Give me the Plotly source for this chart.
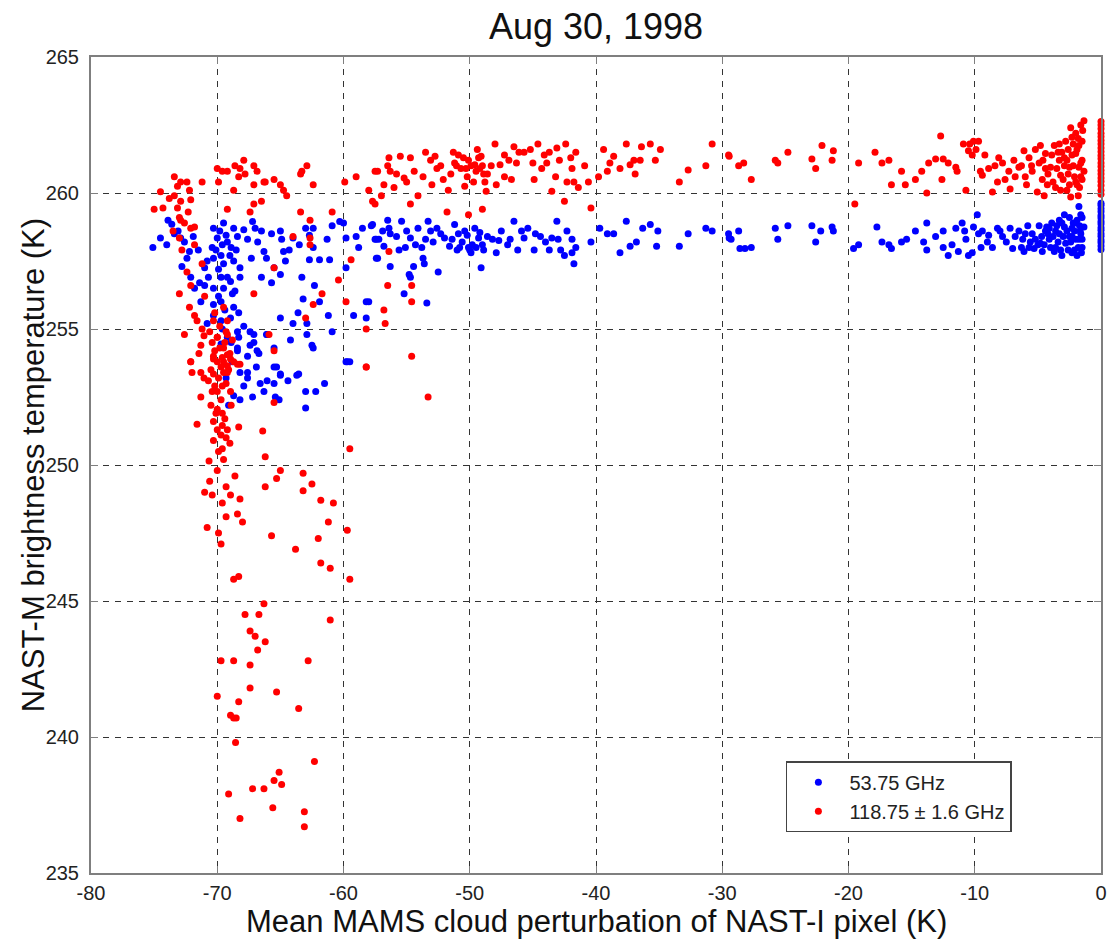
import plotly.graph_objects as go

# ---------------- data ----------------
x_ticks = [-80, -70, -60, -50, -40, -30, -20, -10, 0]
y_ticks = [235, 240, 245, 250, 255, 260, 265]

blue_left = [
    (-73.9, 259.0), (-74.5, 258.35), (-75.1, 258.0), (-73.1, 258.6), (-72.9, 258.35), (-72.6, 258.2),
    (-73.4, 258.5), (-72.2, 257.85), (-72.4, 257.6), (-70.3, 258.7), (-69.5, 258.9), (-68.7, 258.7),
    (-67.9, 258.65), (-67.2, 258.95), (-67.0, 258.7), (-66.5, 258.6), (-65.7, 258.5), (-65.0, 258.6),
    (-64.9, 258.3), (-64.0, 258.35), (-63.0, 258.7), (-62.4, 258.7), (-60.9, 258.8), (-60.0, 258.9),
    (-59.8, 258.35), (-59.0, 258.4), (-57.8, 258.8), (-57.4, 258.3), (-57.4, 257.6), (-59.8, 257.25),
    (-61.1, 257.55), (-61.9, 257.55), (-62.7, 257.55), (-64.75, 257.85), (-64.6, 257.5), (-66.3, 257.85),
    (-66.1, 257.6), (-65.5, 257.25), (-66.5, 256.9), (-65.7, 256.7), (-68.2, 257.25), (-68.7, 257.5),
    (-69.5, 257.4), (-69.7, 257.7), (-70.3, 257.6), (-70.8, 257.5), (-71.0, 257.25), (-70.7, 256.9),
    (-69.7, 256.9), (-68.95, 256.75), (-68.2, 256.9), (-69.5, 256.5), (-70.3, 256.5), (-71.0, 256.6),
    (-71.8, 256.5), (-72.1, 256.9), (-71.3, 256.0), (-70.3, 255.9), (-69.7, 256.0), (-68.7, 255.8),
    (-70.8, 255.2), (-69.7, 255.3), (-68.95, 255.4), (-68.4, 254.9), (-68.4, 254.3), (-69.2, 254.7),
    (-67.4, 254.9), (-67.1, 254.5), (-66.1, 254.8), (-66.85, 254.2), (-65.0, 255.4), (-64.0, 255.2),
    (-62.9, 255.2), (-63.2, 256.1), (-61.9, 256.0), (-61.2, 255.5), (-60.9, 254.9), (-62.4, 254.3),
    (-59.8, 253.8), (-58.2, 256.0), (-58.2, 255.4), (-59.2, 255.5), (-65.5, 253.6), (-65.0, 253.3),
    (-63.7, 253.3), (-67.6, 253.4), (-60.3, 258.95), (-70.4, 258.0), (-70.0, 258.35), (-69.2, 258.2),
    (-68.4, 258.4), (-67.6, 258.3), (-62.7, 258.45), (-62.4, 258.0), (-63.3, 256.9), (-62.3, 256.6),
    (-65.0, 257.0), (-68.8, 256.3), (-70.3, 255.5),
    (-68.3, 254.7), (-67.1, 254.8), (-66.05, 254.8), (-69.7, 254.45), (-68.4, 254.2), (-67.4, 254.4),
    (-66.7, 254.1), (-65.5, 254.3), (-62.5, 254.4), (-59.7, 253.8), (-59.5, 253.8), (-65.3, 253.6),
    (-65.0, 253.35), (-63.55, 253.35), (-68.2, 253.4), (-67.6, 253.2), (-66.6, 253.0), (-66.05, 253.1),
    (-65.5, 253.0), (-66.3, 252.7), (-67.2, 252.5), (-65.4, 252.5), (-65.1, 252.4), (-63.0, 252.7),
    (-62.2, 252.7), (-63.0, 252.1), (-68.2, 252.4), (-69.1, 252.2), (-68.7, 252.55),
    (-69.8, 258.6), (-69.3, 258.45), (-68.9, 258.0), (-69.6, 258.1), (-70.1, 257.9), (-69.0, 257.7),
    (-68.5, 257.9), (-69.9, 257.2), (-69.2, 256.9), (-68.6, 256.4), (-69.9, 256.2), (-69.4, 255.7),
    (-68.3, 255.6), (-69.6, 255.0), (-68.9, 254.5), (-67.9, 255.1), (-67.6, 254.0), (-68.8, 253.8),
    (-69.3, 253.2), (-67.9, 252.9), (-66.9, 253.6), (-64.4, 253.1), (-64.2, 254.6), (-63.6, 255.6),
    (-61.5, 253.0), (-62.9, 254.8), (-71.5, 257.9), (-71.9, 258.4), (-74.0, 258.1), (-73.6, 258.85),
    (-72.8, 257.3), (-71.4, 256.7), (-67.3, 257.6), (-66.8, 258.2), (-64.3, 257.9), (-63.5, 258.1),
    (-61.3, 258.3), (-58.8, 258.0), (-58.5, 258.7),
]

blue_mid = [
    (-57.7, 258.84), (-57.5, 258.3), (-56.8, 258.04), (-56.5, 259.0), (-56.4, 258.7), (-56.3, 258.5),
    (-56.3, 257.3), (-57.3, 257.6), (-55.4, 258.96), (-55.1, 258.0), (-54.7, 258.35), (-54.45, 257.3),
    (-54.1, 258.7), (-53.8, 258.0), (-53.7, 257.6), (-53.4, 255.96), (-53.3, 258.96), (-53.1, 258.6),
    (-52.6, 258.7), (-52.5, 257.1), (-52.0, 258.35), (-51.6, 258.04), (-51.2, 258.84), (-50.9, 258.5),
    (-50.4, 258.6), (-50.1, 258.0), (-49.9, 257.8), (-49.6, 258.7), (-49.3, 258.35), (-49.1, 257.25),
    (-49.0, 258.1), (-48.6, 258.4), (-47.9, 257.8), (-47.5, 258.6), (-47.0, 258.1), (-46.5, 258.96),
    (-45.9, 258.6), (-45.7, 258.35), (-45.4, 258.7), (-44.9, 257.9), (-44.4, 258.4), (-43.7, 257.9),
    (-43.5, 258.35), (-43.1, 258.96), (-42.5, 257.7), (-42.3, 258.6), (-41.9, 258.3), (-41.75, 257.4),
    (-41.6, 258.0), (-40.4, 258.2), (-39.7, 258.7), (-39.1, 258.5), (-38.6, 258.5), (-38.1, 257.8),
    (-37.6, 258.96), (-37.3, 258.04), (-36.8, 258.2), (-36.3, 258.7), (-35.7, 258.84), (-35.2, 258.04),
    (-35.1, 258.6), (-33.4, 258.04), (-32.7, 258.5), (-31.3, 258.7), (-30.8, 258.6), (-58.0, 256.0),
    (-54.7, 256.9), (-29.45, 258.35),
    (-50.6, 258.2), (-50.2, 258.45), (-49.8, 258.1), (-49.5, 258.0), (-50.0, 257.9), (-49.2, 258.55),
    (-50.8, 258.0), (-48.9, 257.9), (-48.2, 258.3), (-47.7, 258.25), (-46.8, 258.3), (-46.2, 257.9),
    (-44.8, 258.5), (-44.0, 258.2), (-43.0, 258.3), (-42.8, 257.9), (-41.9, 257.8), (-55.8, 258.4),
    (-55.0, 258.6), (-54.3, 258.1), (-53.5, 258.3), (-52.9, 258.2), (-52.3, 258.5), (-51.4, 258.3),
    (-51.0, 257.9), (-56.9, 258.6), (-57.2, 258.3), (-55.6, 257.9), (-53.6, 257.4), (-54.8, 257.0),
    (-55.2, 256.3),
]

blue_right = [
    (-29.5, 258.5), (-29.3, 258.3), (-28.7, 258.6), (-28.6, 257.96), (-28.2, 257.96), (-27.7, 258.0),
    (-25.8, 258.7), (-25.6, 258.3), (-24.8, 258.8), (-22.9, 258.8), (-22.6, 258.2), (-22.2, 258.6),
    (-21.3, 258.75), (-21.2, 258.6), (-19.6, 257.96), (-19.2, 258.1), (-17.75, 258.75), (-17.35, 258.2),
    (-16.8, 258.1), (-16.6, 257.96), (-15.8, 258.2), (-15.4, 258.3), (-14.7, 258.6), (-14.05, 258.2),
    (-13.8, 257.9), (-13.8, 258.9), (-13.1, 258.4), (-12.5, 258.6), (-12.5, 258.0), (-12.1, 257.7),
    (-11.5, 258.7), (-11.3, 257.85), (-11.0, 258.9), (-10.7, 258.3), (-10.5, 257.7), (-10.2, 257.8),
    (-10.1, 258.75), (-9.8, 259.2), (-9.7, 258.5), (-9.4, 258.6), (-8.9, 258.45), (-8.6, 258.0),
    (-8.2, 258.7), (-7.8, 258.4), (-7.2, 258.7), (-7.0, 257.96), (-6.5, 258.6), (-6.2, 258.3),
    (-6.1, 257.85), (-5.8, 258.8), (-5.7, 258.0), (-5.45, 258.5), (-5.2, 258.3), (-4.9, 258.8),
    (-4.65, 257.85), (-4.4, 258.6), (-4.1, 258.3), (-3.9, 258.9), (-3.6, 258.0), (-3.3, 258.5),
    (-3.1, 257.7), (-2.9, 258.75), (-2.8, 258.15), (-2.5, 259.1), (-2.3, 258.4), (-2.1, 257.9),
    (-2.0, 258.9), (-1.9, 257.7), (-1.75, 259.5), (-1.6, 258.5), (-1.5, 258.0), (-1.5, 259.1),
    (-1.35, 258.75), (-1.75, 258.3), (-3.6, 258.6), (-4.8, 258.15), (-5.3, 257.96), (-3.3, 259.0),
    (-2.3, 258.7),
    (-4.5, 258.1), (-4.2, 258.5), (-4.0, 258.0), (-3.8, 258.4), (-3.5, 258.8), (-3.4, 258.2),
    (-3.2, 257.9), (-3.0, 258.4), (-2.7, 258.6), (-2.6, 257.9), (-2.4, 258.2), (-2.2, 258.9),
    (-2.0, 258.3), (-1.8, 258.0), (-1.7, 258.8), (-1.6, 259.2), (-1.55, 257.8), (-2.9, 259.2),
    (-3.7, 257.85), (-4.3, 258.75), (-4.7, 258.4), (-5.0, 258.1), (-5.6, 258.2), (-6.0, 258.5),
    (-6.3, 258.0), (-6.8, 258.4), (-7.5, 258.2), (-8.0, 258.6), (-9.0, 258.2), (-9.5, 258.0),
    (-10.8, 258.6), (-11.8, 258.1), (-1.9, 259.0), (-2.1, 258.6), (-2.5, 258.4), (-3.1, 258.9),
    (-1.65, 258.6), (-1.5, 258.3), (-2.3, 257.8), (-4.1, 258.7),
]

blue_edge_y = [257.92, 258.05, 258.18, 258.27, 258.41, 258.5, 258.63, 258.72, 258.86, 258.95,
               259.08, 259.17, 259.31, 259.42, 259.55, 259.62]

red_left = [
    (-73.4, 260.6), (-72.9, 260.4), (-72.4, 260.4), (-73.15, 260.25), (-74.5, 260.05), (-73.8, 259.8),
    (-73.4, 259.9), (-72.9, 259.7), (-72.2, 260.1), (-72.1, 259.75), (-75.0, 259.4), (-74.3, 259.45),
    (-73.15, 259.45), (-71.2, 260.4), (-70.0, 260.9), (-69.6, 260.8), (-69.9, 260.4), (-69.2, 260.8),
    (-68.6, 261.0), (-68.2, 260.9), (-67.9, 261.2), (-68.3, 260.6), (-67.8, 260.7), (-67.1, 261.0),
    (-66.85, 260.8), (-67.1, 260.3), (-66.3, 260.4), (-66.5, 259.7), (-67.1, 259.6), (-66.2, 260.4),
    (-65.5, 260.5), (-65.0, 260.3), (-64.75, 260.1), (-64.5, 259.9), (-63.4, 260.7), (-62.9, 261.0),
    (-63.3, 260.8), (-62.4, 260.3), (-60.9, 259.3), (-62.65, 259.0), (-63.4, 259.3), (-59.0, 260.6),
    (-59.9, 260.4), (-57.7, 259.7), (-57.3, 260.8), (-68.7, 260.1), (-69.2, 259.4), (-67.4, 259.3),
    (-72.9, 259.0), (-72.1, 258.7), (-73.0, 258.35), (-71.8, 258.1), (-72.4, 257.1), (-72.1, 256.6),
    (-73.0, 256.3), (-72.2, 255.8), (-71.8, 255.5), (-70.3, 255.3), (-71.6, 255.3), (-69.5, 255.8),
    (-69.2, 255.3), (-70.0, 254.7), (-69.5, 254.3), (-69.2, 254.05), (-70.0, 253.8), (-70.3, 253.9),
    (-68.7, 253.8), (-68.2, 253.7), (-72.1, 253.8), (-71.3, 253.4), (-69.2, 253.4), (-62.65, 258.1),
    (-62.65, 258.35), (-64.0, 258.4), (-60.4, 256.8), (-61.7, 256.3), (-62.4, 255.9), (-63.0, 255.4),
    (-59.8, 256.0), (-58.2, 255.0), (-59.4, 257.55), (-58.2, 253.6), (-65.5, 257.25), (-65.9, 254.8),
    (-65.5, 254.2), (-67.1, 256.3),
    (-73.0, 259.1), (-72.6, 258.9), (-72.3, 259.3), (-71.8, 258.75), (-73.5, 258.6),
]

red_column = [
    (-71.05, 254.75), (-70.0, 254.7), (-69.2, 254.8), (-71.3, 254.4), (-71.45, 254.1), (-70.3, 254.0),
    (-69.6, 253.95), (-68.95, 253.9), (-68.4, 253.7), (-69.2, 253.65), (-69.7, 253.6), (-72.1, 253.8),
    (-72.0, 253.4), (-71.05, 253.2), (-70.3, 253.35), (-69.5, 253.4), (-70.4, 252.7), (-71.3, 252.5),
    (-70.0, 252.7), (-68.95, 252.7), (-70.0, 252.05), (-70.1, 251.9), (-69.6, 251.9), (-71.6, 251.5),
    (-69.6, 251.45), (-69.2, 251.3), (-69.7, 251.1), (-68.3, 251.4), (-66.4, 251.25), (-69.3, 251.0),
    (-69.6, 250.6), (-69.5, 250.2), (-70.0, 249.8), (-70.65, 250.15), (-66.2, 250.3), (-65.3, 249.5),
    (-65.0, 249.8), (-63.2, 249.7), (-62.5, 249.3), (-66.2, 249.2), (-69.3, 249.2), (-70.4, 248.9),
    (-68.95, 248.9), (-69.6, 248.6), (-68.2, 248.75), (-63.2, 249.05), (-61.8, 248.7), (-60.8, 248.6),
    (-61.2, 247.9), (-68.4, 248.2), (-68.0, 247.9), (-70.8, 247.7), (-69.9, 247.5), (-69.7, 247.1),
    (-65.7, 247.4), (-62.0, 247.3), (-63.8, 246.9), (-59.7, 247.6), (-61.8, 246.4), (-61.05, 246.2),
    (-59.5, 245.8), (-68.3, 245.9), (-68.7, 245.8), (-59.5, 250.6), (-58.2, 253.6), (-54.6, 254.0),
    (-53.3, 252.5), (-65.5, 252.3),
    (-69.8, 254.3), (-69.4, 254.5), (-70.2, 254.2), (-69.0, 254.1), (-69.5, 253.8), (-70.5, 253.5),
    (-69.9, 253.2), (-69.3, 253.0), (-70.2, 252.9), (-69.7, 252.4), (-70.5, 252.2), (-69.4, 251.7),
    (-70.0, 251.3),
    (-70.2, 255.6), (-69.8, 255.1), (-69.3, 254.9), (-70.6, 254.9), (-68.8, 254.6), (-70.4, 254.5),
    (-69.1, 253.5), (-70.7, 253.1), (-69.6, 252.9), (-68.9, 252.2), (-70.3, 251.6), (-69.0, 250.8),
    (-70.3, 250.9), (-69.9, 250.5), (-71.2, 255.0), (-72.6, 254.8), (-72.8, 257.9), (-71.2, 257.4),
    (-71.0, 256.2), (-70.6, 249.4), (-69.3, 248.1), (-68.6, 249.6), (-71.0, 249.0),
]

red_low = [
    (-66.3, 244.9), (-67.8, 244.5), (-66.7, 244.5), (-61.05, 244.3), (-67.4, 243.9), (-67.0, 243.7),
    (-66.2, 243.5), (-66.8, 243.2), (-69.7, 242.8), (-68.7, 242.8), (-67.4, 242.65), (-62.8, 242.8),
    (-67.4, 241.8), (-65.3, 241.65), (-70.0, 241.5), (-68.3, 241.3), (-63.55, 241.05), (-68.7, 240.7),
    (-68.5, 240.7), (-68.95, 240.8), (-68.55, 239.8), (-62.3, 239.1), (-65.1, 238.7), (-65.5, 238.4),
    (-64.9, 238.25), (-67.2, 238.1), (-66.3, 238.1), (-69.1, 237.9), (-65.6, 237.4), (-63.1, 237.25),
    (-68.2, 237.0), (-63.1, 236.7),
]

red_mid = [
    (-58.0, 260.1), (-57.5, 260.8), (-57.5, 259.6), (-56.8, 260.3), (-56.5, 261.0), (-56.4, 261.3),
    (-56.3, 260.8), (-56.0, 260.2), (-55.5, 261.35), (-55.2, 260.55), (-55.0, 260.4), (-54.7, 261.3),
    (-54.7, 259.6), (-54.1, 259.9), (-53.7, 260.6), (-53.5, 261.5), (-53.1, 261.2), (-52.75, 261.35),
    (-52.6, 260.9), (-52.1, 260.5), (-51.8, 259.3), (-51.7, 260.1), (-51.3, 261.5), (-51.2, 261.1),
    (-51.05, 261.0), (-50.9, 261.4), (-50.5, 261.3), (-50.4, 260.25), (-50.3, 260.9), (-50.1, 261.2),
    (-49.9, 261.0), (-49.6, 261.04), (-49.5, 260.8), (-49.3, 261.3), (-49.2, 260.9), (-49.1, 261.35),
    (-49.0, 261.0), (-48.8, 260.4), (-48.7, 260.06), (-49.0, 259.4), (-50.1, 259.2), (-48.6, 260.7),
    (-48.0, 261.8), (-47.6, 261.04), (-47.25, 261.4), (-47.25, 260.6), (-46.7, 260.5), (-46.5, 261.7),
    (-46.3, 261.1), (-46.1, 261.5), (-45.7, 261.5), (-45.2, 261.6), (-44.9, 260.5), (-44.6, 261.8),
    (-44.1, 261.4), (-43.7, 261.5), (-43.5, 260.06), (-43.2, 260.6), (-43.1, 261.65), (-42.4, 261.8),
    (-42.3, 260.4), (-41.9, 260.9), (-41.6, 261.5), (-42.5, 259.7), (-41.75, 260.4), (-40.6, 260.4),
    (-40.4, 259.45), (-39.4, 261.6), (-39.1, 260.8), (-38.6, 261.35), (-38.1, 260.9), (-37.6, 261.8),
    (-37.3, 261.04), (-37.0, 261.2), (-36.5, 261.2), (-36.4, 261.7), (-35.7, 261.8), (-35.3, 261.2),
    (-34.9, 261.6), (-33.4, 260.4), (-32.7, 260.85), (-31.3, 261.0), (-30.8, 261.8), (-29.45, 261.35),
    (-54.6, 256.0), (-54.6, 256.6), (-56.4, 257.85), (-56.8, 255.7), (-56.7, 255.2), (-56.5, 256.6),
    (-50.7, 260.9), (-50.2, 260.6), (-49.7, 260.4), (-49.4, 261.6), (-48.9, 260.7), (-48.3, 261.0),
    (-47.9, 260.3), (-51.5, 260.7), (-52.3, 261.0), (-53.0, 260.3), (-54.4, 260.8), (-55.8, 260.7),
    (-57.0, 259.9), (-45.0, 261.1), (-44.3, 260.9), (-46.9, 261.2), (-43.9, 261.1), (-42.9, 261.2),
    (-42.0, 261.3), (-41.4, 260.2), (-40.9, 261.0), (-39.8, 260.6), (-38.9, 261.1), (-36.9, 260.7),
]

red_right = [
    (-29.5, 261.4), (-28.7, 261.0), (-28.3, 261.1), (-27.7, 260.5), (-25.8, 261.2), (-25.6, 261.1),
    (-24.8, 261.5), (-22.9, 261.25), (-22.6, 260.9), (-22.1, 261.75), (-21.3, 261.2), (-21.2, 261.55),
    (-19.5, 259.6), (-19.2, 261.1), (-17.9, 261.5), (-17.35, 261.1), (-16.8, 261.2), (-16.6, 260.3),
    (-15.8, 260.8), (-15.5, 260.3), (-14.7, 260.5), (-14.2, 260.8), (-13.8, 260.0), (-13.65, 261.1),
    (-13.1, 261.25), (-12.7, 262.1), (-12.6, 260.5), (-12.5, 261.25), (-12.1, 261.1), (-11.5, 260.95),
    (-11.4, 260.8), (-10.9, 261.8), (-10.7, 260.1), (-10.5, 261.55), (-10.2, 261.4), (-10.1, 261.9),
    (-9.7, 261.9), (-9.55, 260.8), (-9.4, 260.65), (-8.9, 260.9), (-8.6, 260.04), (-8.4, 261.0),
    (-8.2, 260.4), (-7.8, 261.1), (-7.3, 260.8), (-7.2, 260.15), (-6.9, 261.2), (-6.5, 260.95),
    (-6.1, 261.55), (-6.0, 260.6), (-5.7, 261.3), (-5.45, 260.8), (-5.2, 261.6), (-5.05, 260.04),
    (-4.9, 261.1), (-4.65, 260.5), (-4.4, 261.45), (-4.25, 260.3), (-4.0, 260.95), (-3.7, 261.75),
    (-3.6, 260.2), (-3.3, 261.2), (-3.2, 260.65), (-3.1, 261.5), (-2.8, 261.9), (-2.7, 260.1),
    (-2.5, 260.95), (-2.4, 259.85), (-2.3, 261.4), (-2.1, 260.6), (-2.0, 262.2), (-1.9, 260.3),
    (-1.75, 261.75), (-1.6, 262.5), (-1.5, 261.2), (-1.35, 262.66), (-1.35, 260.8), (-1.75, 260.95),
    (-2.0, 261.45), (-3.3, 261.8), (-4.4, 260.9), (-4.8, 261.75), (-2.9, 261.0), (-2.3, 262.05),
    (-1.6, 260.6), (-2.5, 260.3),
    (-4.6, 261.2), (-4.2, 260.7), (-3.9, 261.4), (-3.5, 260.9), (-3.4, 261.5), (-3.0, 260.5),
    (-2.9, 261.3), (-2.6, 261.6), (-2.6, 260.7), (-2.2, 261.0), (-2.0, 260.4), (-1.9, 261.6),
    (-1.8, 262.0), (-1.7, 260.2), (-1.6, 261.1), (-1.5, 261.9), (-1.45, 262.3), (-1.5, 260.5),
    (-2.2, 261.8), (-3.8, 260.4), (-5.5, 261.0), (-5.9, 260.3), (-6.3, 261.0), (-6.8, 260.6),
    (-7.6, 260.5), (-8.1, 261.3), (-9.2, 261.4), (-9.9, 261.6), (-10.4, 261.8), (-1.8, 259.9),
    (-2.7, 261.2), (-3.2, 260.1), (-4.5, 259.9), (-2.4, 262.4),
]

red_edge_y = [259.95, 260.1, 260.28, 260.42, 260.55, 260.7, 260.83, 260.97, 261.1, 261.26,
              261.38, 261.52, 261.65, 261.8, 261.93, 262.07, 262.2, 262.36, 262.5, 262.63]

blue_pts = blue_left + blue_mid + blue_right + [(0.0, v) for v in blue_edge_y]
red_pts = red_left + red_column + red_low + red_mid + red_right + [(0.0, v) for v in red_edge_y]

FONT = "Liberation Sans, Arial, Helvetica, sans-serif"

fig = go.Figure()
fig.add_trace(go.Scatter(
    x=[p[0] for p in blue_pts], y=[p[1] for p in blue_pts],
    mode="markers", name="53.75 GHz",
    marker=dict(color="#0000ff", size=7, line=dict(width=0)),
    cliponaxis=False,
))
fig.add_trace(go.Scatter(
    x=[p[0] for p in red_pts], y=[p[1] for p in red_pts],
    mode="markers", name="118.75 ± 1.6 GHz",
    marker=dict(color="#ff0000", size=7, line=dict(width=0)),
    cliponaxis=False,
))

axis_common = dict(
    showgrid=True, gridcolor="#333333", gridwidth=1, griddash="6px,6px",
    showline=True, linecolor="#7f7f7f", linewidth=2, mirror="ticks",
    ticks="inside", ticklen=7, tickcolor="#7f7f7f", tickwidth=1,
    zeroline=False, tickfont=dict(family=FONT, size=20, color="#222222"),
)

fig.update_layout(
    width=1116, height=939,
    margin=dict(l=91, r=9, t=57, b=66),
    paper_bgcolor="white", plot_bgcolor="white",
    font=dict(family=FONT, color="#111111"),
    title=dict(text="Aug 30, 1998", x=0.5, xref="paper", y=1 - 26 / 939, yanchor="middle",
               font=dict(family=FONT, size=36, color="#111111")),
    xaxis=dict(range=[-80, 0], tickvals=x_ticks, ticktext=[str(v) for v in x_ticks],
               ticklabelstandoff=1, **axis_common),
    yaxis=dict(range=[235, 265], tickvals=y_ticks, ticktext=[str(v) for v in y_ticks],
               ticklabelstandoff=6, **axis_common),
    annotations=[
        dict(text="Mean MAMS cloud perturbation of NAST-I pixel (K)", xref="paper", yref="paper",
             x=0.5, y=-48 / 816, xanchor="center", yanchor="middle", showarrow=False,
             font=dict(family=FONT, size=31, color="#111111")),
        dict(text="NAST-M brightness temperature (K)", xref="paper", yref="paper",
             x=-58 / 1016, y=0.5, xanchor="center", yanchor="middle", textangle=-90, showarrow=False,
             font=dict(family=FONT, size=31, color="#111111")),
    ],
    showlegend=True,
    legend=dict(x=0.688, y=0.05, xanchor="left", yanchor="bottom",
                bgcolor="white", bordercolor="#444444", borderwidth=1.5,
                font=dict(family=FONT, size=20, color="#222222"),
                itemsizing="trace", itemwidth=52, tracegroupgap=0),
)

fig.write_html("out.html")
